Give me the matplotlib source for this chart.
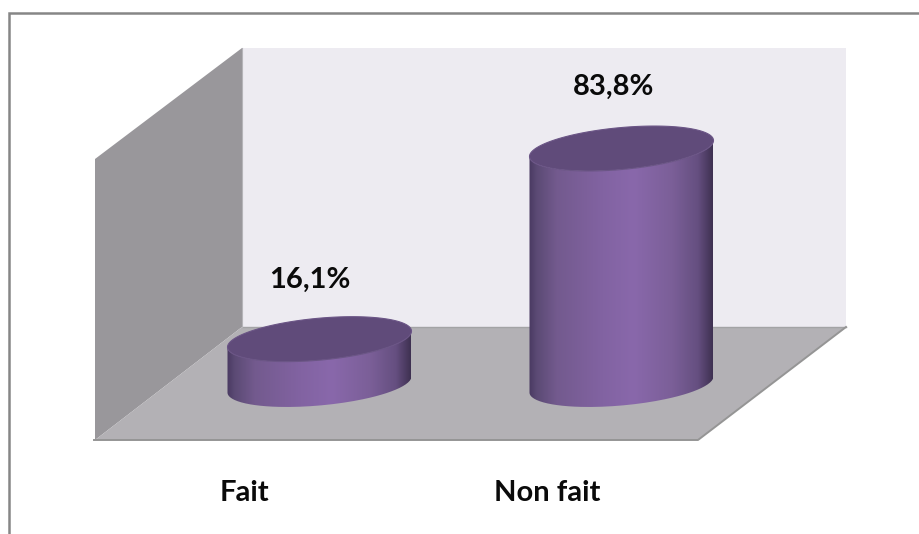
# -*- coding: utf-8 -*-
import numpy as np
import matplotlib
matplotlib.use('Agg')
from matplotlib import pyplot as plt
from matplotlib.patches import Polygon, PathPatch
from matplotlib.path import Path
from matplotlib.transforms import Affine2D
from matplotlib.colors import LinearSegmentedColormap

# data
categories = ['Fait', 'Non fait']
values = [16.1, 83.8]
value_labels = ['16,1%', '83,8%']

W, H = 920, 534
# one category step = 302 px, one percent = 2.816 px
XSTEP, YSTEP = 302.0, 2.816
X0, Y0 = 319.5, 384.5

fig = plt.figure(figsize=(W / 100, H / 100), dpi=100, facecolor='white')
ax = fig.add_axes([0, 0, 1, 1])
ax.set_xlim(-X0 / XSTEP, (W - X0) / XSTEP)
ax.set_ylim((Y0 - H) / YSTEP, Y0 / YSTEP)
ax.axis('off')

# furniture is placed in image pixels, y going down
px = Affine2D().scale(1, -1).translate(0, H)

# frame of the picture
ax.plot([8.5, 8.5, 920], [534, 12.5, 12.5], color='#868686', lw=1.8,
        transform=px, clip_on=False, solid_joinstyle='miter')

# walls and floor
ax.add_patch(Polygon([(242, 48), (846, 48), (846, 327), (242, 327)], fc='#edebf1', ec='none', transform=px))
ax.add_patch(Polygon([(95, 159), (242, 48), (242, 327), (95, 440)], fc='#99979b', ec='none', transform=px))
ax.add_patch(Polygon([(242, 327), (846, 327), (698, 440), (95, 440)], fc='#b3b1b5', ec='none', transform=px))
ax.plot([242, 846], [327, 327], color='#a3a3a5', lw=1, transform=px)
ax.plot([846, 698, 94], [327, 440, 440], color='#959595', lw=1.4, transform=px)
ax.plot([242, 242], [48, 327], color='#b5b4b8', lw=0.8, transform=px)

# cylinders
half_w = 92.0 / XSTEP
depth = 21.0 / YSTEP
skew = 8.0 / YSTEP
shade = LinearSegmentedColormap.from_list('shade', [
    (0.0, '#4a3a62'), (0.04, '#5b4a74'), (0.15, '#735a8e'), (0.4, '#8263a2'),
    (0.57, '#8968ab'), (0.78, '#7b5f98'), (0.92, '#654f80'), (1.0, '#3f3152')])
t_front = np.linspace(np.pi, 2 * np.pi, 80)
t_all = np.linspace(0, 2 * np.pi, 160)

for i, v in enumerate(values):
    # front half of the base, then back up along the front of the top
    xb = i + half_w * np.cos(t_front)
    yb = depth * np.sin(t_front) + skew * np.cos(t_front)
    body = np.vstack([np.column_stack([xb, yb]),
                      np.column_stack([xb[::-1], (yb + v)[::-1]])])
    clip = PathPatch(Path(np.vstack([body, body[0]])), fc='none', ec='none', transform=ax.transData)
    ax.add_patch(clip)
    img = ax.imshow(np.linspace(0, 1, 256).reshape(1, -1), cmap=shade, aspect='auto', zorder=3,
                    extent=[i - half_w, i + half_w, -30, 110])
    img.set_clip_path(clip)
    top = np.column_stack([i + half_w * np.cos(t_all),
                           v + depth * np.sin(t_all) + skew * np.cos(t_all)])
    ax.add_patch(Polygon(top, closed=True, fc='#604b7a', ec='#6b5586', lw=0.8, zorder=4))

# imshow resets the limits
ax.set_xlim(-X0 / XSTEP, (W - X0) / XSTEP)
ax.set_ylim((Y0 - H) / YSTEP, Y0 / YSTEP)

font = dict(family='Lato', fontweight='bold', fontsize=21, color='#0a0a0a', ha='center', va='center')
ax.text(309.5, 280, value_labels[0], transform=px, **font)
ax.text(614, 87, value_labels[1], transform=px, **font)
ax.text(244, 493, categories[0], transform=px, **font)
ax.text(547.5, 493, categories[1], transform=px, **font)

fig.savefig('out.png', dpi=100, facecolor='white')
